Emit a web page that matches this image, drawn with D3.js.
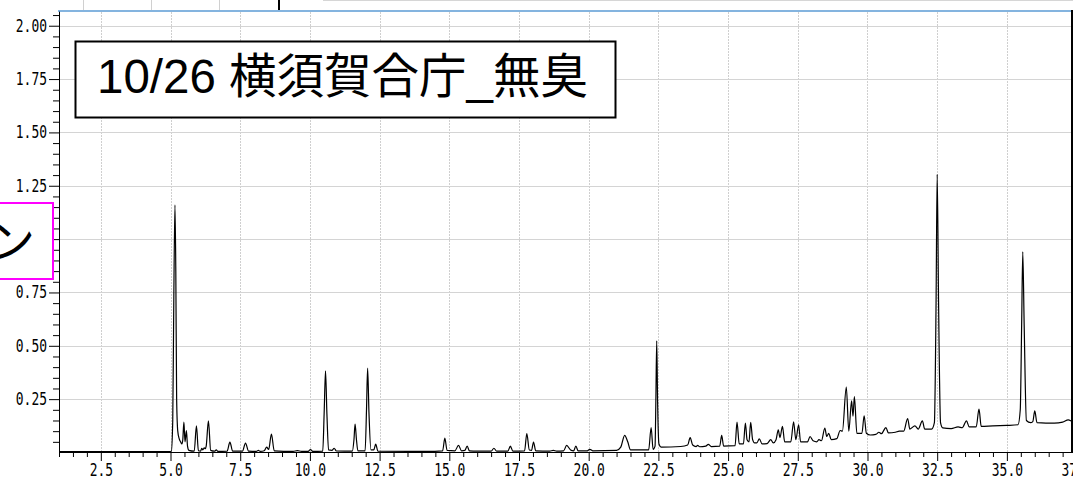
<!DOCTYPE html>
<html>
<head>
<meta charset="utf-8">
<script src="https://cdn.jsdelivr.net/npm/d3@7"></script>
<style>
  html, body { margin: 0; padding: 0; background: #fff; overflow: hidden; }
  svg { display: block; }
</style>
</head>
<body>
<svg id="chart" width="1073" height="479"></svg>
<script>
// Chromatogram trace: retention time (min) and detector response
const retentionTime = [
  1.0, 4.95, 5.03, 5.08, 5.12, 5.16, 5.19, 5.22, 5.26, 5.31, 5.36, 5.41, 5.44, 5.48, 5.52, 5.57, 5.61, 5.66,
  5.85, 5.93, 6.0, 6.08, 6.12, 6.16, 6.21, 6.25, 6.28, 6.36, 6.44, 6.58, 6.64, 6.7,
  7.03, 7.13, 7.23, 7.58, 7.69, 7.8, 8.08, 8.15, 8.22, 8.36, 8.45, 8.52, 8.62, 8.72,
  9.4, 9.55, 9.7, 9.94, 10.02, 10.1, 10.46, 10.51, 10.56, 10.61, 10.67, 10.79, 10.87, 10.95,
  11.52, 11.58, 11.62, 11.67, 11.72, 11.98, 12.03, 12.07, 12.12, 12.19, 12.29, 12.36, 12.44,
  14.2, 14.76, 14.84, 14.92, 15.2, 15.33, 15.44, 15.56, 15.64, 15.72, 16.0, 16.5, 16.6, 16.7,
  17.1, 17.19, 17.28, 17.7, 17.78, 17.87, 17.95, 18.02, 18.1, 18.6, 18.73, 18.85,
  19.1, 19.21, 19.35, 19.46, 19.54, 19.62, 19.95, 20.04, 20.15, 21.0, 21.15, 21.29, 21.4, 21.5,
  22.15, 22.24, 22.31, 22.38, 22.41, 22.44, 22.47, 22.52, 22.6,
  23.3, 23.55, 23.64, 23.73, 23.85, 23.91, 23.98, 24.2, 24.29, 24.4, 24.7, 24.77, 24.84,
  25.25, 25.32, 25.4, 25.55, 25.62, 25.68, 25.75, 25.81, 25.88, 25.95, 26.03, 26.12, 26.22,
  26.4, 26.53, 26.62, 26.72, 26.8, 26.86, 26.95, 27.03, 27.25, 27.35, 27.43, 27.53, 27.6,
  27.85, 27.94, 28.05, 28.18, 28.26, 28.35, 28.47, 28.54, 28.61, 28.7, 28.9, 29.02, 29.1,
  29.24, 29.33, 29.43, 29.48, 29.53, 29.62, 29.8, 29.88, 29.96, 30.1, 30.3, 30.41, 30.5,
  30.66, 30.75, 31.0, 31.14, 31.3, 31.44, 31.52, 31.7, 31.82, 31.97, 32.05, 32.3, 32.4,
  32.46, 32.5, 32.55, 32.62, 32.7, 33.0, 33.25, 33.4, 33.55, 33.65, 33.9, 34.0, 34.08,
  34.5, 35.0, 35.4, 35.48, 35.53, 35.57, 35.62, 35.7, 35.85, 35.93, 36.0, 36.08,
  36.4, 36.7, 37.0, 37.2, 37.3
];
const response = [
  0.004, 0.004, 0.006, 0.15, 0.75, 1.16, 0.85, 0.25, 0.1, 0.065, 0.05, 0.04, 0.06, 0.142, 0.05, 0.103, 0.03, 0.01,
  0.006, 0.125, 0.008, 0.006, 0.02, 0.012, 0.022, 0.018, 0.03, 0.148, 0.01, 0.006, 0.012, 0.005,
  0.006, 0.049, 0.006, 0.006, 0.044, 0.006, 0.005, 0.01, 0.005, 0.008, 0.025, 0.014, 0.086, 0.008,
  0.005, 0.009, 0.005, 0.005, 0.014, 0.005, 0.006, 0.18, 0.383, 0.18, 0.012, 0.01, 0.02, 0.007,
  0.006, 0.06, 0.133, 0.06, 0.008, 0.008, 0.2, 0.395, 0.18, 0.012, 0.012, 0.039, 0.006,
  0.005, 0.008, 0.067, 0.01, 0.008, 0.033, 0.008, 0.01, 0.03, 0.008, 0.006, 0.006, 0.02, 0.006,
  0.006, 0.03, 0.006, 0.008, 0.089, 0.012, 0.01, 0.049, 0.008, 0.006, 0.01, 0.006,
  0.008, 0.033, 0.012, 0.008, 0.03, 0.008, 0.008, 0.015, 0.008, 0.01, 0.025, 0.08, 0.05, 0.012,
  0.012, 0.117, 0.015, 0.03, 0.25, 0.523, 0.25, 0.04, 0.025,
  0.028, 0.035, 0.07, 0.035, 0.028, 0.033, 0.027, 0.03, 0.038, 0.028, 0.03, 0.08, 0.03,
  0.032, 0.142, 0.04, 0.04, 0.138, 0.06, 0.05, 0.141, 0.06, 0.045, 0.045, 0.064, 0.04,
  0.042, 0.06, 0.045, 0.06, 0.106, 0.07, 0.122, 0.05, 0.05, 0.144, 0.06, 0.13, 0.05,
  0.05, 0.075, 0.055, 0.05, 0.06, 0.055, 0.114, 0.075, 0.09, 0.06, 0.065, 0.103, 0.1,
  0.306, 0.1, 0.242, 0.17, 0.262, 0.09, 0.09, 0.172, 0.09, 0.082, 0.085, 0.095, 0.088,
  0.117, 0.092, 0.095, 0.1, 0.1, 0.159, 0.11, 0.125, 0.11, 0.148, 0.11, 0.11, 0.14,
  0.7, 1.304, 0.7, 0.14, 0.115, 0.112, 0.12, 0.116, 0.148, 0.12, 0.12, 0.203, 0.122,
  0.125, 0.127, 0.13, 0.2, 0.6, 0.94, 0.6, 0.15, 0.14, 0.145, 0.195, 0.14,
  0.138, 0.138, 0.142, 0.153, 0.148
];

// Axis ticks (the 1.00 label sits under the side label box, so it carries no text)
const xMajorTicks = [2.5, 5.0, 7.5, 10.0, 12.5, 15.0, 17.5, 20.0, 22.5, 25.0, 27.5, 30.0, 32.5, 35.0, 37.5];
const yMajorTicks = [0.25, 0.5, 0.75, 1.0, 1.25, 1.5, 1.75, 2.0];
const yHiddenLabels = [1.0];
const titleText = "10/26 横須賀合庁_無臭";
const sideLabelText = "ン";

const svg = d3.select("#chart");
const W = 1073, H = 479;

const x = d3.scaleLinear().domain([1.0, 37.3]).range([59, 1071]);
const y = d3.scaleLinear().domain([0, 2.069]).range([452.5, 11]);

svg.append("rect").attr("width", W).attr("height", H).attr("fill", "#fff");

// strip of the neighbouring panel above the plot
const strip = svg.append("g");
[83, 151, 219].forEach(px => strip.append("line")
  .attr("x1", px + 0.5).attr("x2", px + 0.5).attr("y1", 0).attr("y2", 10)
  .attr("stroke", "#d0d0d0"));
strip.append("line").attr("x1", 323).attr("x2", W).attr("y1", 0.5).attr("y2", 0.5)
  .attr("stroke", "#d6d6d6");
strip.append("line").attr("x1", 279).attr("x2", 279).attr("y1", 0).attr("y2", 10)
  .attr("stroke", "#000").attr("stroke-width", 2);

// grid
const grid = svg.append("g");
grid.selectAll("line.gx").data(xMajorTicks.filter(t => x(t) < 1070)).join("line")
  .attr("x1", d => Math.round(x(d)) + 0.5).attr("x2", d => Math.round(x(d)) + 0.5)
  .attr("y1", 12).attr("y2", 452)
  .attr("stroke", "#cfcfcf").attr("stroke-dasharray", "2,1");
grid.selectAll("line.gy").data(yMajorTicks).join("line")
  .attr("x1", 60).attr("x2", 1071)
  .attr("y1", d => Math.round(y(d)) + 0.5).attr("y2", d => Math.round(y(d)) + 0.5)
  .attr("stroke", "#d4d4d4");

// trace
svg.append("clipPath").attr("id", "plotClip")
  .append("rect").attr("x", 59).attr("y", 11).attr("width", 1012).attr("height", 442);
const points = retentionTime.map((t, i) => [t, response[i]]);
const line = d3.line().x(d => x(d[0])).y(d => y(d[1])).curve(d3.curveMonotoneX);
svg.append("path").datum(points)
  .attr("clip-path", "url(#plotClip)")
  .attr("d", line)
  .attr("fill", "none").attr("stroke", "#000").attr("stroke-width", 1.2)
  .attr("stroke-linejoin", "round");

// axes
const labelFont = "'DejaVu Sans Mono', 'Liberation Mono', monospace";
function styleLabels(g) {
  g.selectAll(".tick text")
    .attr("font-family", labelFont).attr("font-size", 17).attr("fill", "#000")
    .each(function () {
      const s = d3.select(this);
      if (s.text().length) {
        s.attr("textLength", s.text().length * 7.8).attr("lengthAdjust", "spacingAndGlyphs");
      }
    });
  g.selectAll(".domain").remove();
  g.selectAll(".tick line").attr("stroke", "#000");
}

const xMinor = d3.range(1.0, 37.31, 0.5).filter(t => !xMajorTicks.some(m => Math.abs(m - t) < 1e-6));
svg.append("g").attr("transform", "translate(0,452)")
  .call(d3.axisBottom(x).tickValues(xMinor).tickSize(5).tickFormat(""))
  .call(g => { g.selectAll(".domain").remove(); g.selectAll(".tick line").attr("stroke", "#000"); });
svg.append("g").attr("transform", "translate(0,452)")
  .call(d3.axisBottom(x).tickValues(xMajorTicks).tickSize(9).tickPadding(3).tickFormat(d3.format(".1f")))
  .call(styleLabels);

const yMinor = d3.range(0.05, 2.06, 0.05).filter(v => !yMajorTicks.some(m => Math.abs(m - v) < 1e-6));
const yFmt = d3.format(".2f");
svg.append("g").attr("transform", "translate(59,0)")
  .call(d3.axisLeft(y).tickValues(yMinor).tickSize(6).tickFormat(""))
  .call(g => { g.selectAll(".domain").remove(); g.selectAll(".tick line").attr("stroke", "#000"); });
svg.append("g").attr("transform", "translate(59,0)")
  .call(d3.axisLeft(y).tickValues(yMajorTicks).tickSize(10).tickPadding(2)
    .tickFormat(d => yHiddenLabels.includes(d) ? "" : yFmt(d)))
  .call(styleLabels);

// frame lines
svg.append("line").attr("x1", 59).attr("x2", 1071).attr("y1", 452.5).attr("y2", 452.5)
  .attr("stroke", "#000");
svg.append("line").attr("x1", 59.5).attr("x2", 59.5).attr("y1", 11).attr("y2", 453)
  .attr("stroke", "#000");
svg.append("line").attr("x1", 1072).attr("x2", 1072).attr("y1", 10).attr("y2", 453)
  .attr("stroke", "#000").attr("stroke-width", 2);
svg.append("line").attr("x1", 58).attr("x2", 1071).attr("y1", 11).attr("y2", 11)
  .attr("stroke", "#5b9bd5").attr("stroke-width", 1.6);

// title box
const titleG = svg.append("g");
titleG.append("rect").attr("x", 75.5).attr("y", 41.5).attr("width", 540).attr("height", 76)
  .attr("fill", "#fff").attr("stroke", "#000").attr("stroke-width", 2);
titleG.append("text").attr("x", 97).attr("y", 93)
  .attr("font-family", "'Liberation Sans', 'Noto Sans CJK JP', sans-serif")
  .attr("font-size", 47.5).attr("fill", "#000").text(titleText);

// side label box (extends past the left edge)
const sideG = svg.append("g");
sideG.append("rect").attr("x", -80).attr("y", 203).attr("width", 133).attr("height", 76)
  .attr("fill", "#fff").attr("stroke", "#ff00ff").attr("stroke-width", 2);
sideG.append("text").attr("x", -12).attr("y", 258)
  .attr("font-family", "'Noto Sans CJK JP', sans-serif")
  .attr("font-size", 47).attr("fill", "#000").text(sideLabelText);
</script>
</body>
</html>
